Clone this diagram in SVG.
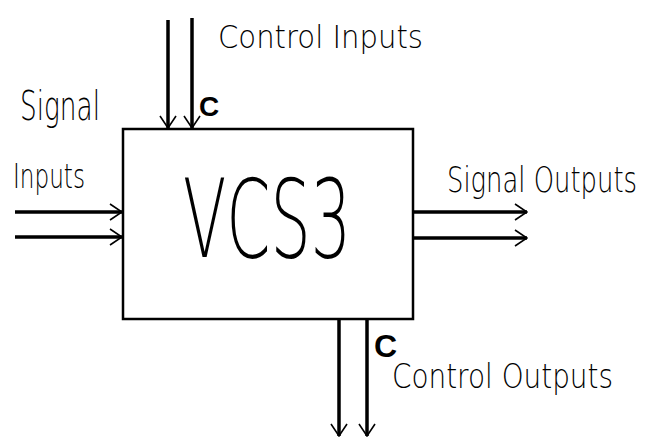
<svg xmlns="http://www.w3.org/2000/svg" width="650" height="438" viewBox="0 0 650 438">
<defs>
<style>
.hand{font-family:"DejaVu Sans","Liberation Sans",sans-serif;font-weight:200;fill:#000}
.bold{font-family:"Liberation Sans","DejaVu Sans",sans-serif;font-weight:bold;fill:#000}
.wire{stroke:#000;stroke-width:3.5;fill:none}
.box{stroke:#000;stroke-width:2.5;fill:#fff}
</style>
<marker id="arr" viewBox="0 0 14 18" refX="13" refY="9" markerWidth="14" markerHeight="18" markerUnits="userSpaceOnUse" orient="auto">
<path d="M1,1 L13,9 L1,17" fill="none" stroke="#000" stroke-width="1.6"/>
</marker>
</defs>
<rect width="650" height="438" fill="#fff"/>
<g id="connectors">
<line class="wire" x1="168" y1="20" x2="168" y2="128" marker-end="url(#arr)"/>
<line class="wire" x1="192" y1="18" x2="192" y2="128" marker-end="url(#arr)"/>
<line class="wire" x1="15" y1="212" x2="122" y2="212" marker-end="url(#arr)"/>
<line class="wire" x1="15" y1="237" x2="122" y2="237" marker-end="url(#arr)"/>
<line class="wire" x1="414" y1="212" x2="527" y2="212" marker-end="url(#arr)"/>
<line class="wire" x1="414" y1="238" x2="527" y2="238" marker-end="url(#arr)"/>
<line class="wire" x1="339" y1="320" x2="339" y2="436" marker-end="url(#arr)"/>
<line class="wire" x1="367" y1="320" x2="367" y2="436" marker-end="url(#arr)"/>
</g>
<g id="vcs3">
<rect class="box" x="123" y="129" width="290" height="190"/>
<text class="hand" x="183" y="257" font-size="108" textLength="168" lengthAdjust="spacingAndGlyphs">VCS3</text>
</g>
<g id="labels">
<text class="hand" x="218" y="48" font-size="32" textLength="205" lengthAdjust="spacingAndGlyphs">Control Inputs</text>
<text class="bold" x="199" y="116" font-size="28">C</text>
<text class="hand" x="20" y="120" font-size="40" textLength="80" lengthAdjust="spacingAndGlyphs">Signal</text>
<text class="hand" x="13" y="188" font-size="34" textLength="72" lengthAdjust="spacingAndGlyphs">Inputs</text>
<text class="hand" x="447" y="192" font-size="36" textLength="190" lengthAdjust="spacingAndGlyphs">Signal Outputs</text>
<text class="bold" x="374" y="357" font-size="32">C</text>
<text class="hand" x="392" y="388" font-size="34" textLength="221" lengthAdjust="spacingAndGlyphs">Control Outputs</text>
</g>
</svg>
